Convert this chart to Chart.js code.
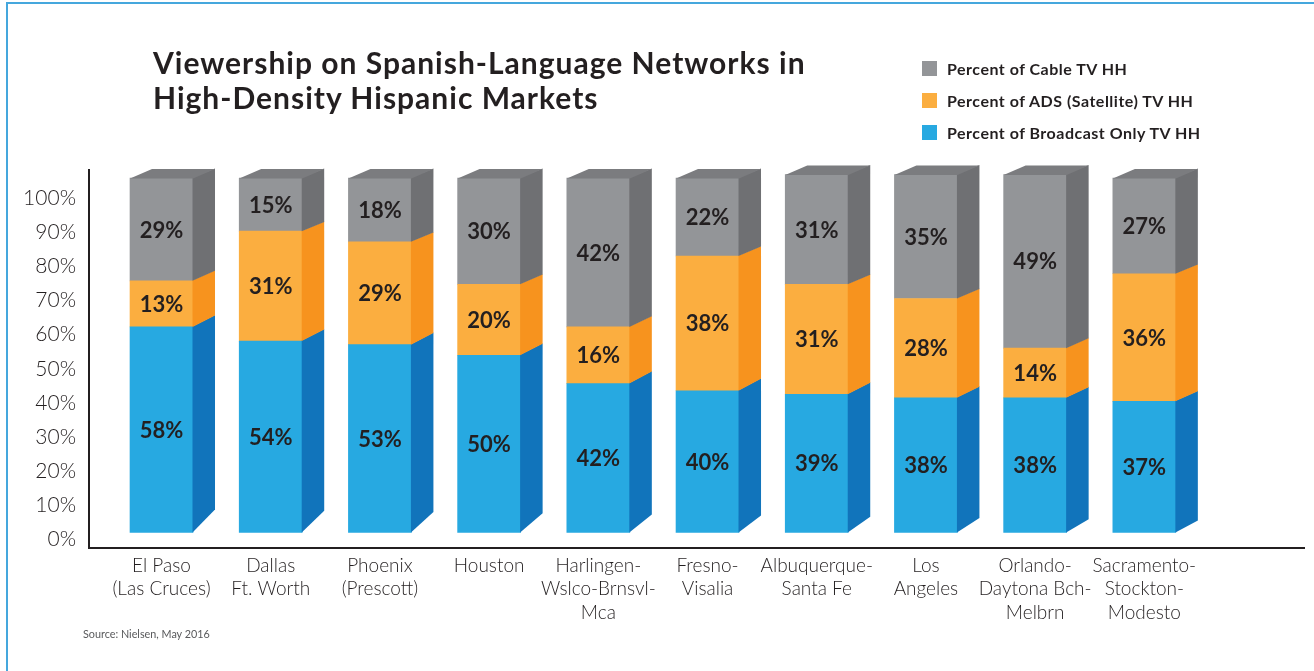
<!DOCTYPE html>
<html><head><meta charset="utf-8">
<script src="https://cdn.jsdelivr.net/npm/chart.js@4"></script>
<style>
html,body{margin:0;padding:0;background:#fff;}
#wrap{position:relative;width:1314px;height:671px;overflow:hidden;font-family:Lato,'Open Sans',sans-serif;color:#231f20;}
#frame{position:absolute;left:6px;top:2px;width:1320px;height:680px;border-top:2px solid #45a7dd;border-left:2px solid #45a7dd;}
canvas{position:absolute;left:0;top:0;}
#title{position:absolute;left:153px;top:45px;font-size:30px;letter-spacing:1px;font-weight:700;line-height:35px;white-space:nowrap;}
#legend{position:absolute;left:922px;top:52px;}
.row{display:flex;align-items:center;height:32px;font-size:16px;letter-spacing:0.5px;font-weight:700;white-space:nowrap;}
.sw{width:15px;height:15px;margin-right:10px;}
#source{position:absolute;left:83px;top:627px;font-size:10.8px;line-height:14px;color:#58595b;white-space:nowrap;}
</style></head>
<body>
<div id="wrap">
<div id="frame"></div>
<canvas id="c" width="1314" height="671"></canvas>
<div id="title">Viewership on Spanish-Language Networks in<br>High-Density Hispanic Markets</div>
<div id="legend"></div>
<div id="source">Source: Nielsen, May 2016</div>
</div>
<script>
const categories = [
  ['El Paso','(Las Cruces)'],
  ['Dallas','Ft. Worth'],
  ['Phoenix','(Prescott)'],
  ['Houston'],
  ['Harlingen-','Wslco-Brnsvl-','Mca'],
  ['Fresno-','Visalia'],
  ['Albuquerque-','Santa Fe'],
  ['Los','Angeles'],
  ['Orlando-','Daytona Bch-','Melbrn'],
  ['Sacramento-','Stockton-','Modesto']
];
const broadcastPct = [58,54,53,50,42,40,39,38,38,37];
const satellitePct = [13,31,29,20,16,38,31,28,14,36];
const cablePct     = [29,15,18,30,42,22,31,35,49,27];
const seriesNames = ['Percent of Broadcast Only TV HH','Percent of ADS (Satellite) TV HH','Percent of Cable TV HH'];
const yTickValues = [0,10,20,30,40,50,60,70,80,90,100];

const FRONT = ['#27a9e1','#fbae40','#939598'];
const SIDE  = ['#1174bb','#f7931e','#6f7073'];
const TOPC  = '#7b7c7f';
const TXT = '#231f20';

const lg = document.getElementById('legend');
[2,1,0].forEach(k=>{
  const r=document.createElement('div'); r.className='row';
  const s=document.createElement('div'); s.className='sw'; s.style.background=FRONT[k];
  const t=document.createElement('span'); t.textContent=seriesNames[k];
  r.appendChild(s); r.appendChild(t); lg.appendChild(r);
});

const seriesValues=[broadcastPct,satellitePct,cablePct];
const datasets = seriesValues.map((vals,k)=>({
  label: seriesNames[k],
  data: vals.map((v,i)=>({x:i,y:v})),
  backgroundColor: FRONT[k],
  borderWidth: 0,
  barThickness: 63,
  stack: 's',
  clip: false
}));

const cube = {
  id:'cube',
  afterDatasetsDraw(chart){
    const ctx = chart.ctx;
    const metas = chart.data.datasets.map((d,k)=>chart.getDatasetMeta(k));
    const n = categories.length;
    const dx = 22, dyTop = 9;
    ctx.save();
    for(let i=0;i<n;i++){
      const bars = metas.map(m=>m.data[i]);
      const base = bars[0].base;
      const top = bars[bars.length-1].y;
      const dyBottom = 23 - 11*i/(n-1);
      const dy = y => { const t=(y-top)/(base-top); return dyTop + (dyBottom-dyTop)*t*t; };
      bars.forEach((b,k)=>{
        const r = b.x + b.width/2;
        const y1 = b.y, y2 = b.base;
        ctx.fillStyle = SIDE[k];
        ctx.beginPath();
        ctx.moveTo(r-0.5,y2); ctx.lineTo(r+dx,y2-dy(y2)); ctx.lineTo(r+dx,y1-dy(y1)-0.5); ctx.lineTo(r-0.5,y1-0.5);
        ctx.closePath(); ctx.fill();
      });
      const tb = bars[bars.length-1];
      const l = tb.x - tb.width/2, r = tb.x + tb.width/2;
      ctx.fillStyle = TOPC;
      ctx.beginPath();
      ctx.moveTo(l,top+0.5); ctx.lineTo(l+dx,top-dyTop); ctx.lineTo(r+dx,top-dyTop); ctx.lineTo(r,top+0.5);
      ctx.closePath(); ctx.fill();
      ctx.font = '700 22px Lato';
      ctx.fillStyle = TXT;
      ctx.textAlign = 'center';
      ctx.textBaseline = 'middle';
      bars.forEach((b,k)=>{
        ctx.fillText(seriesValues[k][i]+'%', b.x, (b.y+b.base)/2 + 1);
      });
    }
    ctx.restore();
  }
};

new Chart(document.getElementById('c'), {
  type:'bar',
  data:{datasets},
  plugins:[cube],
  options:{
    responsive:false,
    devicePixelRatio:1,
    animation:false,
    layout:{padding:{top:170,right:10,left:0,bottom:0}},
    plugins:{legend:{display:false},title:{display:false},tooltip:{enabled:false}},
    scales:{
      x:{
        type:'linear', min:-0.664, max:10.462, stacked:true, offset:false,
        grid:{display:false,drawTicks:false,offset:false},
        border:{display:true,color:TXT,width:2},
        afterBuildTicks:s=>{ s.ticks = categories.map((c,i)=>({value:i})); },
        ticks:{autoSkip:false,maxRotation:0,minRotation:0,padding:6,color:TXT,
          font:{family:'Lato',size:19,weight:'300',lineHeight:1.24},
          callback:v=>categories[v]},
        afterFit:s=>{ s.height = 123; }
      },
      y:{display:false,stacked:true,min:-4.37,max:102.26},
      yt:{
        type:'linear',position:'left',min:-2.55,max:108.3,
        grid:{display:false,drawTicks:false},
        border:{display:true,color:TXT,width:2},
        afterBuildTicks:s=>{ s.ticks = yTickValues.map(v=>({value:v})); },
        ticks:{padding:13,color:TXT,font:{family:'Lato',size:21,weight:'300'},callback:v=>v+'%'},
        afterFit:s=>{ s.width = 89; }
      }
    }
  }
});
</script>
</body></html>
